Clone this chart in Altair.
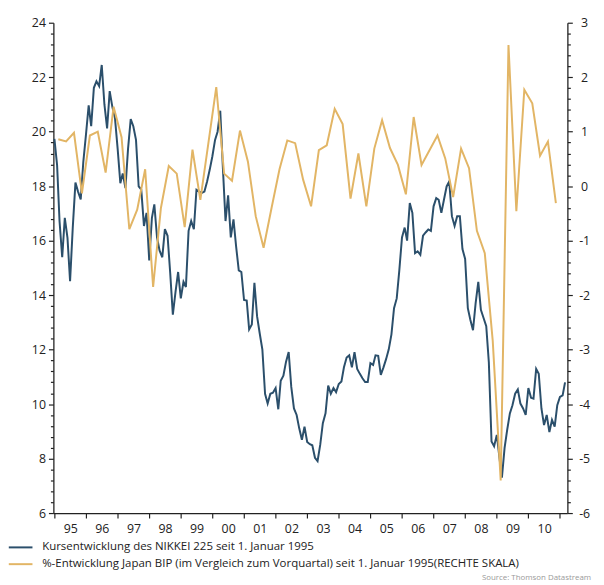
import altair as alt
import pandas as pd

# NIKKEI 225 (in Tausend Punkten), monatlich ab Januar 1995
nikkei = [
    19.74, 18.77, 16.72, 15.39, 16.84, 16.10, 14.51, 16.48, 18.13, 17.80, 17.51, 18.89,
    19.90, 20.97, 20.20, 21.61, 21.85, 21.67, 22.45, 21.00, 20.12, 21.49, 20.90, 20.50,
    19.37, 18.11, 18.47, 17.93, 19.37, 20.46, 20.20, 19.70, 17.99, 17.87, 16.54, 17.02,
    15.27, 16.84, 17.33, 16.12, 15.63, 15.39, 16.42, 16.18, 14.79, 13.28, 14.12, 14.85,
    13.88, 14.49, 14.30, 16.36, 16.72, 16.42, 17.87, 17.80, 17.75, 17.80, 18.17, 18.60,
    19.10, 19.70, 20.00, 20.77, 18.70, 16.72, 17.66, 16.12, 16.78, 15.80, 14.91, 14.85,
    13.82, 13.80, 12.74, 12.92, 14.45, 13.22, 12.60, 12.00, 10.38, 10.02, 10.38, 10.42,
    10.59, 9.81, 10.86, 11.04, 11.55, 11.91, 10.63, 9.84, 9.60, 9.11, 8.69, 9.17,
    8.61, 8.53, 8.49, 8.03, 7.91, 8.51, 9.30, 9.66, 10.68, 10.38, 10.59, 10.44,
    10.74, 10.83, 11.35, 11.71, 11.79, 11.35, 11.91, 11.29, 11.11, 10.95, 10.81, 10.81,
    11.50, 11.44, 11.79, 11.77, 11.07, 11.35, 11.65, 12.01, 12.56, 13.52, 13.88, 14.91,
    16.12, 16.48, 16.00, 17.38, 17.02, 15.54, 15.61, 15.48, 16.18, 16.30, 16.41, 16.36,
    17.26, 17.56, 17.50, 17.02, 17.50, 17.99, 18.17, 16.90, 16.54, 16.90, 16.90, 15.69,
    15.33, 13.52, 13.10, 12.71, 13.70, 14.49, 13.46, 13.16, 12.86, 11.53, 8.63, 8.45,
    8.87, 8.03, 7.30, 8.39, 9.05, 9.66, 9.96, 10.38, 10.54, 10.02, 9.84, 9.60,
    10.59, 10.23, 10.20, 11.29, 11.11, 9.84, 9.23, 9.60, 8.97, 9.42, 9.17, 9.96,
    10.26, 10.32, 10.80,
]

# BIP Japan, % zum Vorquartal, Q1 1995 - Q4 2010
gdp = [
    0.86, 0.82, 0.98, -0.13, 0.93, 1.00, 0.25, 1.46, 0.90, -0.79,
    -0.43, 0.31, -1.85, -0.40, 0.37, 0.23, -0.75, 0.67, -0.25, 0.78,
    1.82, 0.23, 0.10, 1.02, 0.45, -0.55, -1.13, -0.40, 0.31, 0.84,
    0.79, 0.12, -0.37, 0.66, 0.75, 1.42, 1.14, -0.23, 0.60, -0.37,
    0.69, 1.21, 0.70, 0.39, -0.15, 1.27, 0.39, 0.66, 0.93, 0.51,
    -0.20, 0.69, 0.33, -0.82, -1.23, -2.84, -5.40, 2.59, -0.46, 1.77,
    1.52, 0.56, 0.82, -0.31,
]

series_names = [
    "Kursentwicklung des NIKKEI 225 seit 1. Januar 1995",
    "%-Entwicklung Japan BIP (im Vergleich zum Vorquartal) seit 1. Januar 1995(RECHTE SKALA)",
]
series_colors = ["#2b4f6b", "#e2b565"]
year_ticks = list(range(1995, 2012))
left_ticks = [round(6 + 0.4 * i, 1) for i in range(46)]
right_ticks = [round(-6 + 0.2 * i, 1) for i in range(46)]
source_text = ["Source: Thomson Datastream"]

df_n = pd.DataFrame({
    "date": pd.date_range("1995-01-01", periods=len(nikkei), freq="MS"),
    "value": nikkei,
    "series": series_names[0],
})
df_g = pd.DataFrame({
    "date": pd.date_range("1995-01-01", periods=len(gdp), freq="QS") + pd.Timedelta(days=45),
    "value": gdp,
    "series": series_names[1],
})

INK = "#222222"
FONT = "Open Sans"

x_enc = alt.X(
    "date:T",
    scale=alt.Scale(domain=[alt.DateTime(year=1994, month=12, date=20),
                            alt.DateTime(year=2011, month=3, date=28)]),
    axis=alt.Axis(
        values=[alt.DateTime(year=y, month=1, date=1) for y in year_ticks],
        labelExpr="year(datum.value) < 2011 ? timeFormat(datum.value, '%y') : ''",
        labelOffset=16, labelFlush=False, labelOverlap=False,
        tickSize=5, labelPadding=5, grid=False, title=None,
        domainColor=INK, tickColor=INK, labelColor=INK, labelFontSize=12.5,
        domainWidth=1.3, tickWidth=1.2,
    ),
)

color_enc = alt.Color(
    "series:N",
    scale=alt.Scale(domain=series_names, range=series_colors),
    legend=alt.Legend(
        title=None, orient="none", legendX=-39, legendY=526, direction="vertical",
        symbolType="M-3,0H3", symbolSize=64, symbolStrokeWidth=2,
        labelFontSize=11.6, labelColor=INK, labelFont=FONT, labelOffset=16,
        rowPadding=4, padding=0, labelLimit=600,
    ),
)

left = alt.Chart(df_n).mark_line(strokeWidth=2).encode(
    x=x_enc,
    y=alt.Y(
        "value:Q",
        scale=alt.Scale(domain=[6, 24], nice=False, zero=False),
        axis=alt.Axis(
            orient="left", values=left_ticks, title=None, grid=False,
            labelExpr="abs(datum.value/2 - round(datum.value/2)) < 0.01 ? '' + round(datum.value) : ''",
            tickSize={"condition": {"test": "abs(datum.value/2 - round(datum.value/2)) < 0.01", "value": 5}, "value": 3},
            labelOverlap=False, labelPadding=3, labelFontSize=12.5,
            domainColor=INK, tickColor=INK, labelColor=INK, domainWidth=1.3, tickWidth=1.2,
        ),
    ),
    color=color_enc,
)

right = alt.Chart(df_g).mark_line(strokeWidth=2).encode(
    x=x_enc,
    y=alt.Y(
        "value:Q",
        scale=alt.Scale(domain=[-6, 3], nice=False, zero=False),
        axis=alt.Axis(
            orient="right", values=right_ticks, title=None, grid=False,
            labelExpr="abs(datum.value - round(datum.value)) < 0.01 ? '' + round(datum.value) : ''",
            tickSize={"condition": {"test": "abs(datum.value - round(datum.value)) < 0.01", "value": 5}, "value": 3},
            labelOverlap=False, labelPadding=12, labelAlign="center", labelFontSize=12.5,
            domainColor=INK, tickColor=INK, labelColor=INK, domainWidth=1.3, tickWidth=1.2,
        ),
    ),
    color=color_enc,
)

source = alt.Chart(pd.DataFrame({"t": source_text})).mark_text(
    align="right", baseline="middle", fontSize=8, color="#9a9a9a", font=FONT,
).encode(text="t:N", x=alt.value(545), y=alt.value(563))

chart = (
    alt.layer(left, right, source)
    .resolve_scale(y="independent")
    .properties(
        width=521, height=497,
        padding={"left": 46, "top": 11, "right": 29, "bottom": 70},
        autosize=alt.AutoSizeParams(type="none"),
    )
    .configure(font=FONT)
    .configure_view(stroke=None)
    .configure_axis(labelFont=FONT)
)

chart.save("out.html", embed_options={"renderer": "svg", "actions": False})
